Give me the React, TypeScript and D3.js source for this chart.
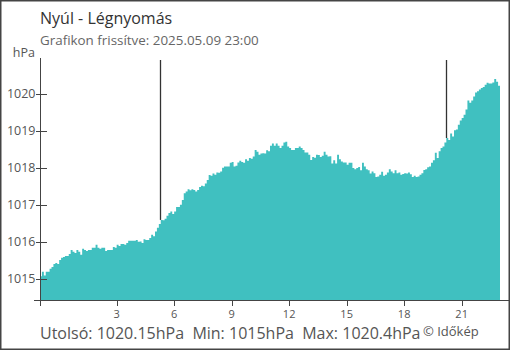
import React from "react";
import * as d3 from "d3";

const TITLE = "Nyúl - Légnyomás";
const SUBTITLE = "Grafikon frissítve: 2025.05.09 23:00";
const UNIT = "hPa";
const FOOTER = "Utolsó: 1020.15hPa  Min: 1015hPa  Max: 1020.4hPa";
const CREDIT = "© Időkép";

const START_HOUR = -1;
const END_HOUR = 23;
const STEP_HOURS = 0.1;
const Y_DOMAIN = [1014.44, 1021.05];

const yTicks = [1015, 1016, 1017, 1018, 1019, 1020];
const xTicks = [3, 6, 9, 12, 15, 18, 21];
const sunEvents = [5.28, 20.2];

const pressure = [
  1015.08, 1015.20, 1015.10, 1015.20, 1015.20, 1015.28, 1015.33, 1015.41, 1015.44, 1015.41,
  1015.52, 1015.58, 1015.60, 1015.63, 1015.63, 1015.68, 1015.79, 1015.74, 1015.71, 1015.79,
  1015.74, 1015.66, 1015.82, 1015.79, 1015.76, 1015.79, 1015.79, 1015.85, 1015.85, 1015.93,
  1015.85, 1015.82, 1015.85, 1015.85, 1015.76, 1015.79, 1015.79, 1015.79, 1015.87, 1015.85,
  1015.93, 1015.90, 1015.95, 1015.95, 1015.93, 1015.98, 1016.04, 1016.04, 1016.04, 1016.04,
  1016.06, 1016.01, 1016.02, 1015.98, 1016.08, 1016.06, 1016.06, 1016.11, 1016.20, 1016.16,
  1016.29, 1016.39, 1016.49, 1016.60, 1016.59, 1016.63, 1016.71, 1016.79, 1016.83, 1016.76,
  1016.83, 1016.95, 1016.95, 1017.01, 1017.14, 1017.32, 1017.37, 1017.43, 1017.40, 1017.43,
  1017.41, 1017.37, 1017.41, 1017.49, 1017.52, 1017.51, 1017.58, 1017.68, 1017.81, 1017.79,
  1017.85, 1017.82, 1017.88, 1017.87, 1017.91, 1018.01, 1018.04, 1018.04, 1018.04, 1018.14,
  1018.16, 1018.04, 1018.06, 1018.15, 1018.20, 1018.16, 1018.14, 1018.24, 1018.20, 1018.27,
  1018.25, 1018.31, 1018.49, 1018.44, 1018.36, 1018.39, 1018.40, 1018.39, 1018.48, 1018.45,
  1018.60, 1018.66, 1018.60, 1018.66, 1018.60, 1018.54, 1018.60, 1018.69, 1018.71, 1018.58,
  1018.54, 1018.49, 1018.49, 1018.54, 1018.54, 1018.58, 1018.54, 1018.49, 1018.42, 1018.42,
  1018.36, 1018.22, 1018.30, 1018.28, 1018.36, 1018.35, 1018.30, 1018.33, 1018.44, 1018.36,
  1018.31, 1018.32, 1018.12, 1018.21, 1018.12, 1018.36, 1018.24, 1018.18, 1018.15, 1018.15,
  1018.09, 1018.14, 1018.14, 1018.00, 1017.97, 1018.00, 1018.03, 1017.94, 1018.14, 1018.04,
  1017.97, 1017.94, 1017.85, 1017.91, 1017.86, 1017.76, 1017.77, 1017.82, 1017.90, 1017.79,
  1017.82, 1017.88, 1017.97, 1017.91, 1017.86, 1017.94, 1017.86, 1017.88, 1017.82, 1017.84,
  1017.86, 1017.85, 1017.88, 1017.83, 1017.76, 1017.79, 1017.76, 1017.77, 1017.82, 1017.86,
  1017.95, 1017.97, 1018.02, 1018.04, 1018.14, 1018.21, 1018.41, 1018.27, 1018.45, 1018.54,
  1018.58, 1018.69, 1018.81, 1018.76, 1018.93, 1018.85, 1019.02, 1019.04, 1019.17, 1019.28,
  1019.35, 1019.44, 1019.58, 1019.82, 1019.76, 1019.82, 1019.93, 1020.04, 1020.07, 1020.12,
  1020.16, 1020.19, 1020.25, 1020.30, 1020.28, 1020.28, 1020.31, 1020.40, 1020.33, 1020.22,
];

const W = 510;
const H = 350;
const M = { left: 40, right: 500, top: 55, bottom: 300 };
const FONT = "'Open Sans', 'Noto Sans', sans-serif";
const FILL = "#40c0c0";
const AXIS = "#444";
const TEXT = "#555";

export default function App() {
  const x = d3.scaleLinear().domain([START_HOUR, END_HOUR]).range([M.left, M.right]);
  const y = d3.scaleLinear().domain(Y_DOMAIN).range([M.bottom, M.top]);

  const pts: [number, number][] = pressure.map((v, i) => [START_HOUR + i * STEP_HOURS, v]);
  pts.push([END_HOUR, pressure[pressure.length - 1]]);

  const area = d3
    .area<[number, number]>()
    .x((d) => x(d[0]))
    .y0(M.bottom)
    .y1((d) => y(d[1]))
    .curve(d3.curveStepAfter);

  const valueAt = (h: number) =>
    pressure[Math.min(pressure.length - 1, Math.round((h - START_HOUR) / STEP_HOURS))];

  return (
    <svg
      width={W}
      height={H}
      style={{ position: "absolute", left: 0, top: 0, display: "block" }}
      fontFamily={FONT}
    >
      <rect x={0} y={0} width={W} height={H} fill="#fff" />
      <rect x={0.75} y={0.75} width={W - 1.5} height={H - 1.5} fill="none" stroke={AXIS} strokeWidth={1.5} />

      <text x={40} y={24} fontSize={16} fill="#333">{TITLE}</text>
      <text x={40} y={45} fontSize={13.4} fill="#666">{SUBTITLE}</text>
      <text x={35} y={57} fontSize={12.5} fill={TEXT} textAnchor="end">{UNIT}</text>

      <path d={area(pts) ?? ""} fill={FILL} />

      {sunEvents.map((h) => (
        <line
          key={h}
          x1={Math.round(x(h)) + 0.5}
          x2={Math.round(x(h)) + 0.5}
          y1={60}
          y2={y(valueAt(h))}
          stroke="#333"
          strokeWidth={1.3}
        />
      ))}

      {/* y axis */}
      <line x1={40.5} x2={40.5} y1={58} y2={300} stroke={AXIS} strokeWidth={1} />
      {yTicks.map((t) => (
        <g key={t}>
          <line x1={36} x2={47} y1={Math.round(y(t)) + 0.5} y2={Math.round(y(t)) + 0.5} stroke={AXIS} strokeWidth={1} />
          <text x={35.5} y={y(t)} dy="0.32em" fontSize={12.5} fill={TEXT} textAnchor="end">
            {t}
          </text>
        </g>
      ))}

      {/* x axis */}
      <line x1={34} x2={W} y1={300.5} y2={300.5} stroke={AXIS} strokeWidth={1} />
      <line x1={40.5} x2={40.5} y1={300} y2={306} stroke={AXIS} strokeWidth={1} />
      {xTicks.map((t) => (
        <g key={t}>
          <line x1={Math.round(x(t)) + 0.5} x2={Math.round(x(t)) + 0.5} y1={300} y2={306} stroke={AXIS} strokeWidth={1} />
          <text x={x(t)} y={318} fontSize={11} fill={TEXT} textAnchor="middle">
            {t}
          </text>
        </g>
      ))}

      <text x={40} y={339} fontSize={16} fill={TEXT} style={{ whiteSpace: "pre" }}>{FOOTER}</text>
      <text x={423} y={335.5} fontSize={13} fill={TEXT}>{CREDIT}</text>
    </svg>
  );
}
